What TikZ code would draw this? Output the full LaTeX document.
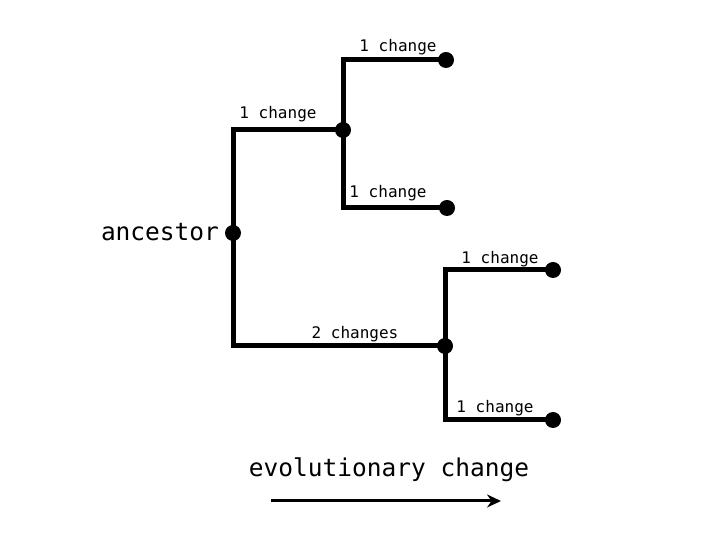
\documentclass[tikz,border=0pt]{standalone}
\usepackage{fontspec}
\setmonofont{DejaVu Sans Mono}
\usetikzlibrary{arrows.meta,backgrounds}
\newfontfamily\lblfont{DejaVu Sans Mono}
\begin{document}
\begin{tikzpicture}[x=1pt,y=1pt,
  dot/.style={circle,fill=black,inner sep=0pt,minimum size=16pt},
  branch/.style={line width=5pt,line cap=rect},
  small/.style={font=\lblfont\fontsize{16}{18}\selectfont,inner sep=0pt},
  big/.style={font=\lblfont\fontsize{24.5}{28}\selectfont,inner sep=0pt}]
\useasboundingbox (0,0) rectangle (720,540);
% nodes (y = 540 - image y)
\node[dot] (anc) at (233,307) {};
\node[dot] (n1) at (343,410) {};
\node[dot] (n2) at (445,194) {};
\node[dot] (l1) at (446,480) {};
\node[dot] (l2) at (447,332) {};
\node[dot] (l3) at (553,270) {};
\node[dot] (l4) at (553,120) {};
\begin{pgfonlayer}{background}
\draw[branch] (anc.center) |- (n1.center);
\draw[branch] (anc.center) |- (n2.center);
\draw[branch] (n1.center) |- (l1.center);
\draw[branch] (n1.center) |- (l2.center);
\draw[branch] (n2.center) |- (l3.center);
\draw[branch] (n2.center) |- (l4.center);
\end{pgfonlayer}
% labels
\node[big] (tanc) at (160,308) {ancestor};
\node[small] (t1) at (398,493) {1 change};
\node[small] (t2) at (278,426) {1 change};
\node[small] (t3) at (388,347) {1 change};
\node[small] (t4) at (500,281) {1 change};
\node[small] (t5) at (355,206) {2 changes};
\node[small] (t6) at (495,132) {1 change};
\node[big] (tevo) at (389,70) {evolutionary change};
% arrow
\coordinate (as) at (271,39);
\coordinate (ae) at (501,39);
\draw[line width=3pt,-{Stealth[length=14pt,width=13pt]}] (as) -- (ae);
\end{tikzpicture}
\end{document}
